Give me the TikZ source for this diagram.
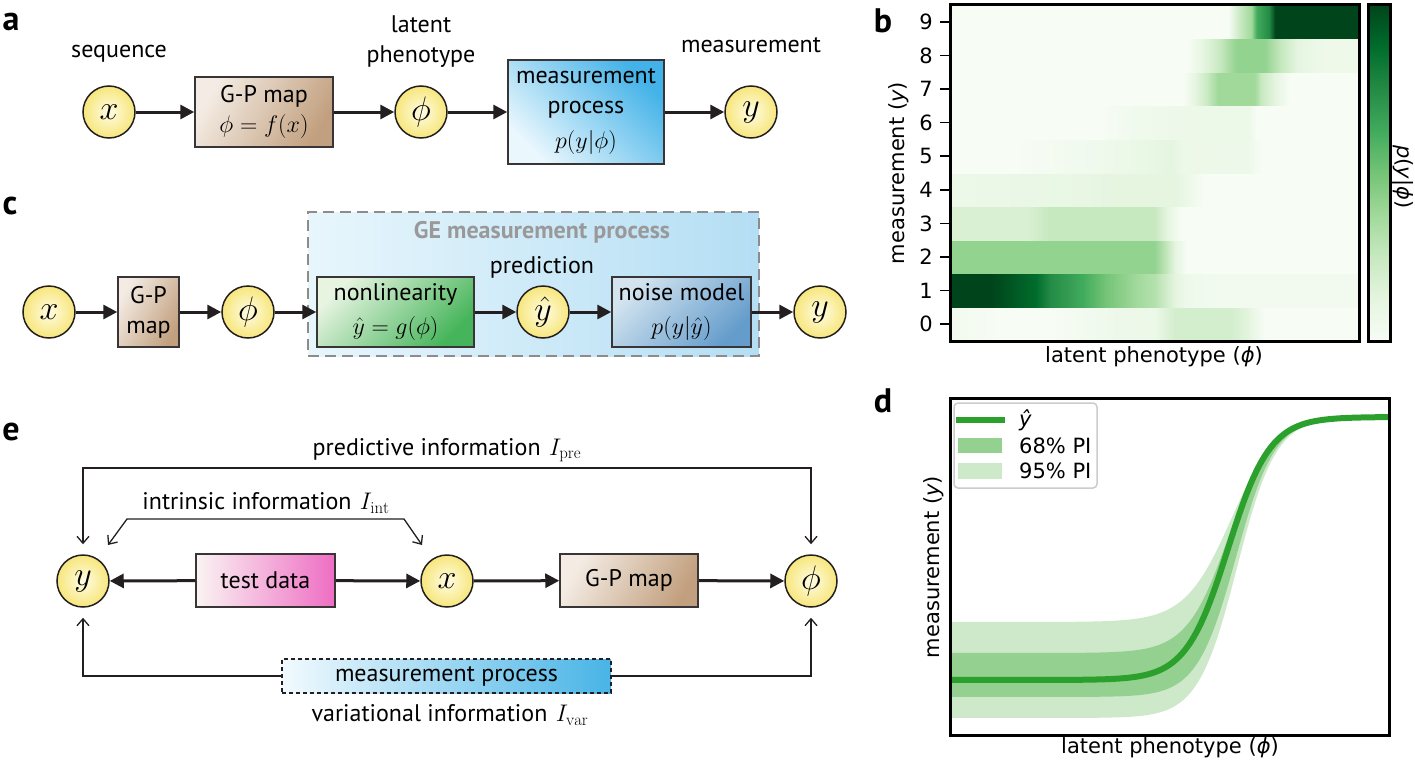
\RequirePackage{fix-cm}
\documentclass[tikz,border=0pt]{standalone}
\usepackage{fontspec}
\newfontfamily\dfam{PT Sans}
\newfontfamily\pfam{DejaVu Sans}
\usetikzlibrary{arrows.meta,calc,shadings}
\definecolor{G0}{HTML}{F7FCF5}
\definecolor{G1}{HTML}{E5F5E0}
\definecolor{G2}{HTML}{C7E9C0}
\definecolor{G3}{HTML}{A1D99B}
\definecolor{G4}{HTML}{74C476}
\definecolor{G5}{HTML}{41AB5D}
\definecolor{G6}{HTML}{238B45}
\definecolor{G7}{HTML}{006D2C}
\definecolor{G8}{HTML}{00441B}
\definecolor{ink}{HTML}{231F20}
\definecolor{circin}{HTML}{FFFCE3}
\definecolor{circout}{HTML}{F7E67C}
\definecolor{gpL}{HTML}{F4ECE4}
\definecolor{gpR}{HTML}{C2A07F}
\definecolor{mpL}{HTML}{EAF7FD}
\definecolor{mpR}{HTML}{42B2E8}
\definecolor{nlL}{HTML}{E6F4E0}
\definecolor{nlR}{HTML}{45B45A}
\definecolor{nmL}{HTML}{D3E4EF}
\definecolor{nmR}{HTML}{649CCB}
\definecolor{geL}{HTML}{E8F6FC}
\definecolor{geR}{HTML}{B4DEF4}
\definecolor{tdL}{HTML}{FAF4F3}
\definecolor{tdR}{HTML}{EE6DC3}
\definecolor{emL}{HTML}{F2FAFE}
\definecolor{emR}{HTML}{48B4E6}
\definecolor{geT}{HTML}{999999}
\definecolor{dashc}{HTML}{8C8C8C}
\definecolor{yhat}{HTML}{2CA02C}
\definecolor{c68}{HTML}{94D090}
\definecolor{c95}{HTML}{CDE9C9}
% heatmap rows (visible range 25bp..75bp)
\pgfdeclarehorizontalshading{hm0}{100bp}{color(0bp)=(G0!70!G1); color(25bp)=(G0!70!G1); color(31bp)=(G0); color(37.5bp)=(G0); color(45bp)=(G1!50!G0); color(50bp)=(G1!60!G0); color(52.5bp)=(G2!60!G1); color(59.5bp)=(G2!60!G1); color(61.5bp)=(G1); color(63.5bp)=(G0); color(75bp)=(G0); color(100bp)=(G0)}
\pgfdeclarehorizontalshading{hm1}{100bp}{color(0bp)=(G8); color(25bp)=(G8); color(30bp)=(G8); color(35.5bp)=(G7); color(37.25bp)=(G6); color(41.25bp)=(G5); color(44bp)=(G4); color(47.75bp)=(G3); color(50bp)=(G2!50!G3); color(52.5bp)=(G1); color(54bp)=(G1!50!G0); color(57bp)=(G0!70!G1); color(75bp)=(G0!70!G1); color(100bp)=(G0!70!G1)}
\pgfdeclarehorizontalshading{hm2}{100bp}{color(0bp)=(G3!70!G4); color(25bp)=(G3!70!G4); color(50bp)=(G3!70!G4); color(51bp)=(G3!50!G2); color(52.5bp)=(G1); color(54bp)=(G0); color(75bp)=(G0); color(100bp)=(G0)}
\pgfdeclarehorizontalshading{hm3}{100bp}{color(0bp)=(G2!40!G1); color(25bp)=(G2!40!G1); color(34.5bp)=(G2!40!G1); color(37bp)=(G2); color(50bp)=(G2); color(51.5bp)=(G1); color(53.25bp)=(G0); color(75bp)=(G0); color(100bp)=(G0)}
\pgfdeclarehorizontalshading{hm4}{100bp}{color(0bp)=(G1!60!G0); color(25bp)=(G1!60!G0); color(33bp)=(G1!70!G0); color(41bp)=(G1!80!G0); color(45bp)=(G1); color(52.5bp)=(G1); color(54bp)=(G1!60!G0); color(56bp)=(G0); color(75bp)=(G0); color(100bp)=(G0)}
\pgfdeclarehorizontalshading{hm5}{100bp}{color(0bp)=(G0); color(25bp)=(G0); color(33bp)=(G0); color(45bp)=(G1!50!G0); color(52bp)=(G1); color(53.5bp)=(G1!60!G0); color(61.5bp)=(G1!50!G0); color(63bp)=(G0); color(75bp)=(G0); color(100bp)=(G0)}
\pgfdeclarehorizontalshading{hm6}{100bp}{color(0bp)=(G0); color(25bp)=(G0); color(43.5bp)=(G0); color(47.5bp)=(G1!40!G0); color(56bp)=(G1!60!G0); color(61.5bp)=(G1!60!G0); color(62.5bp)=(G0); color(75bp)=(G0); color(100bp)=(G0)}
\pgfdeclarehorizontalshading{hm7}{100bp}{color(0bp)=(G0); color(25bp)=(G0); color(53.5bp)=(G0); color(55bp)=(G1); color(56.5bp)=(G2); color(57.75bp)=(G3); color(62.25bp)=(G3); color(63bp)=(G2); color(64.75bp)=(G1); color(66.5bp)=(G0); color(75bp)=(G0); color(100bp)=(G0)}
\pgfdeclarehorizontalshading{hm8}{100bp}{color(0bp)=(G0); color(25bp)=(G0); color(54bp)=(G0); color(56bp)=(G1); color(58bp)=(G2); color(60bp)=(G3!70!G4); color(63.5bp)=(G3!70!G4); color(65.5bp)=(G2); color(67.5bp)=(G1); color(70.5bp)=(G1!50!G0); color(75bp)=(G1!50!G0); color(100bp)=(G1!50!G0)}
\pgfdeclarehorizontalshading{hm9}{100bp}{color(0bp)=(G0); color(25bp)=(G0); color(59bp)=(G0); color(60.5bp)=(G2); color(61.85bp)=(G3); color(62.5bp)=(G5); color(64bp)=(G6); color(64.75bp)=(G8); color(75bp)=(G8); color(100bp)=(G8)}
\pgfdeclareverticalshading{cbar}{100bp}{color(0bp)=(G0); color(25bp)=(G0); color(31.25bp)=(G1); color(37.5bp)=(G2); color(43.75bp)=(G3); color(50bp)=(G4); color(56.25bp)=(G5); color(62.5bp)=(G6); color(68.75bp)=(G7); color(75bp)=(G8); color(100bp)=(G8)}
\pgfmathdeclarefunction{sgm}{3}{\pgfmathparse{1/(1+exp(-max(-9,min(9,(#1-#2)/#3))))}}
\tikzset{
  circ/.style={circle, draw=ink, line width=1.5pt, inner color=circin, outer color=circout,
    minimum size=52pt, inner sep=0pt, font=\fontsize{34}{40}\selectfont},
  box/.style={draw=ink!90, line width=1.5pt, align=center, inner sep=2pt,
    font=\dfam\fontsize{24}{30}\selectfont},
  dtxt/.style={align=center, inner sep=0pt, font=\dfam\fontsize{24}{30}\selectfont},
  ptxt/.style={inner sep=0pt, font=\pfam\fontsize{21}{25}\selectfont},
  arr/.style={line width=3pt, draw=ink, -{Triangle[length=14pt,width=14pt]}},
  info/.style={line width=1.3pt, draw=ink},
  plab/.style={font=\dfam\bfseries\fontsize{34}{40}\selectfont, inner sep=0pt},
  frame/.style={draw=black, line width=3pt},
}
\begin{document}
\begin{tikzpicture}[x=1pt,y=-1pt]
\useasboundingbox (0,0) rectangle (1415,760);
% ---------------- panel a ----------------
\node[plab] (la) at (11,22) {a};
\node[dtxt] (aseq) at (119,54) {sequence};
\node[dtxt] (alat) at (421,42) {latent\\phenotype};
\node[dtxt] (ameas) at (751,45) {measurement};
\node[circ] (ax) at (109,112) {$x$};
\node[box, minimum width=138pt, minimum height=70pt, top color=gpL, bottom color=gpR, shading angle=60] (agp) at (264,112) {G-P map\\$\phi=f(x)$};
\node[circ] (aphi) at (421,112) {$\phi$};
\node[box, minimum width=156pt, minimum height=104pt, top color=mpR, bottom color=mpL, shading angle=-45] (amp) at (586,112) {measurement\\process\\[5pt]$p(y|\phi)$};
\node[circ] (ay) at (751,112) {$y$};
\draw[arr] (ax) -- (agp);
\draw[arr] (agp) -- (aphi);
\draw[arr] (aphi) -- (amp);
\draw[arr] (amp) -- (ay);
% ---------------- panel c ----------------
\node[plab] (lc) at (10,206) {c};
\node[draw=dashc, line width=2.5pt, dash pattern=on 11pt off 6pt, left color=geL, right color=geR,
  minimum width=451pt, minimum height=144pt, inner sep=0pt] (cge) at (533.5,284) {};
\node[dtxt, font=\dfam\bfseries\fontsize{24}{30}\selectfont, text=geT] (cget) at (542,232) {GE measurement process};
\node[dtxt] (cpred) at (542,267) {prediction};
\node[circ] (cx) at (49,312) {$x$};
\node[box, minimum width=61pt, minimum height=70pt, top color=gpL, bottom color=gpR, shading angle=60] (cgp) at (148.5,312) {G-P\\map};
\node[circ] (cphi) at (248,312) {$\phi$};
\node[box, minimum width=157pt, minimum height=70pt, top color=nlL, bottom color=nlR, shading angle=45] (cnl) at (395.5,312) {nonlinearity\\[4pt]$\hat y=g(\phi)$};
\node[circ] (cyh) at (543,312) {$\hat y$};
\node[box, minimum width=139pt, minimum height=70pt, top color=nmL, bottom color=nmR, shading angle=45] (cnm) at (681.5,312) {noise model\\[4pt]$p(y|\hat y)$};
\node[circ] (cy) at (820,312) {$y$};
\draw[arr] (cx) -- (cgp);
\draw[arr] (cgp) -- (cphi);
\draw[arr] (cphi) -- (cnl);
\draw[arr] (cnl) -- (cyh);
\draw[arr] (cyh) -- (cnm);
\draw[arr] (cnm) -- (cy);
% ---------------- panel e ----------------
\node[plab] (le) at (11,432) {e};
\node[dtxt] (epre) at (447,450) {predictive information\hspace{0.35em}$I_{\rm pre}$};
\node[dtxt] (eint) at (266,503) {intrinsic information\hspace{0.35em}$I_{\rm int}$};
\node[dtxt] (evar) at (450,715) {variational information\hspace{0.35em}$I_{\rm var}$};
\node[circ] (ey) at (83,581) {$y$};
\node[box, minimum width=139pt, minimum height=53pt, left color=tdL, right color=tdR] (etd) at (265.5,580.5) {test data};
\node[circ] (ex) at (447,581) {$x$};
\node[box, minimum width=138pt, minimum height=53pt, top color=gpL, bottom color=gpR, shading angle=60] (egp) at (629,580.5) {G-P map};
\node[circ] (ephi) at (811,581) {$\phi$};
\node[box, line width=1.3pt, draw=ink, dash pattern=on 4pt off 3pt, minimum width=329pt, minimum height=34pt, left color=emL, right color=emR] (emp) at (446.5,676) {measurement process};
\draw[arr] (etd) -- (ey);
\draw[arr] (etd) -- (ex);
\draw[arr] (ex) -- (egp);
\draw[arr] (egp) -- (ephi);
\coordinate (il) at ($(ey)+(25,-36)$);
\coordinate (ir) at ($(ex)+(-25,-36)$);
\draw[info, {Straight Barb[length=7pt,width=12pt]}-{Straight Barb[length=7pt,width=12pt]}, shorten <=10pt, shorten >=10pt]
  (ey.north) -- (ey.north |- 0,468) -- (ephi.north |- 0,468) -- (ephi.north);
\draw[info, {Straight Barb[length=7pt,width=12pt]}-{Straight Barb[length=7pt,width=12pt]}]
  (il) -- ++(19,-26) -- ($(ir)+(-18,-26)$) -- (ir);
\draw[info, -{Straight Barb[length=7pt,width=12pt]}, shorten >=10pt] (emp.west) -| (ey.south);
\draw[info, -{Straight Barb[length=7pt,width=12pt]}, shorten >=10pt] (emp.east) -| (ephi.south);
% ---------------- panel b ----------------
\node[plab] (lb) at (883,21) {b};
\foreach \k in {0,...,9}{
  \shade[shading=hm\k] (950,{341-33.6*(\k+1)}) rectangle (1359,{341-33.6*\k});
  \draw[line width=1.5pt] (950,{324.2-33.6*\k}) -- (940,{324.2-33.6*\k});
  \node[ptxt, anchor=east] (bt\k) at (933,{324.2-33.6*\k}) {\k};
}
\draw[frame] (950,5) rectangle (1359,341);
\shade[shading=cbar] (1368,5) rectangle (1390,341);
\draw[frame] (1368,5) rectangle (1390,341);
\node[ptxt, rotate=90] (bylab) at (899,173) {measurement ({\itshape y})};
\node[ptxt] (bxlab) at (1154,357) {latent phenotype ({\itshape ϕ})};
\node[ptxt, rotate=-90] (bclab) at (1403,177) {{\itshape p}({\itshape y}|{\itshape ϕ})};
% ---------------- panel d ----------------
\node[plab] (ld) at (883,401) {d};
\begin{scope}
\clip (950,398) rectangle (1389,735);
\fill[c95] plot[domain=950:1389,samples=160] (\x,{622-205*sgm(\x,1231,23)}) -- plot[domain=1389:950,samples=160] (\x,{718-301*sgm(\x,1237,19.5)}) -- cycle;
\fill[c68] plot[domain=950:1389,samples=160] (\x,{653-236*sgm(\x,1229,21)}) -- plot[domain=1389:950,samples=160] (\x,{697-280*sgm(\x,1236,19.5)}) -- cycle;
\draw[yhat, line width=6pt] plot[domain=950:1389,samples=160] (\x,{680-263*sgm(\x,1228,21)});
\end{scope}
\draw[frame] (950,398) rectangle (1389,735);
\node[draw=black!20, line width=1.5pt, rounded corners=4pt, fill=white, minimum width=143pt, minimum height=85pt, inner sep=0pt] (leg) at (1025.5,445.5) {};
\draw[yhat, line width=6pt] (956,420) -- (1005,420);
\fill[c68] (958,438) rectangle (1002,453);
\fill[c95] (958,463) rectangle (1002,479);
\node[ptxt, anchor=west] (lg1) at (1019,420) {{\itshape ŷ}};
\node[ptxt, anchor=west] (lg2) at (1019,446) {68\% PI};
\node[ptxt, anchor=west] (lg3) at (1019,471) {95\% PI};
\node[ptxt, rotate=90] (dylab) at (934,567) {measurement ({\itshape y})};
\node[ptxt] (dxlab) at (1170,748) {latent phenotype ({\itshape ϕ})};
\end{tikzpicture}
\end{document}
